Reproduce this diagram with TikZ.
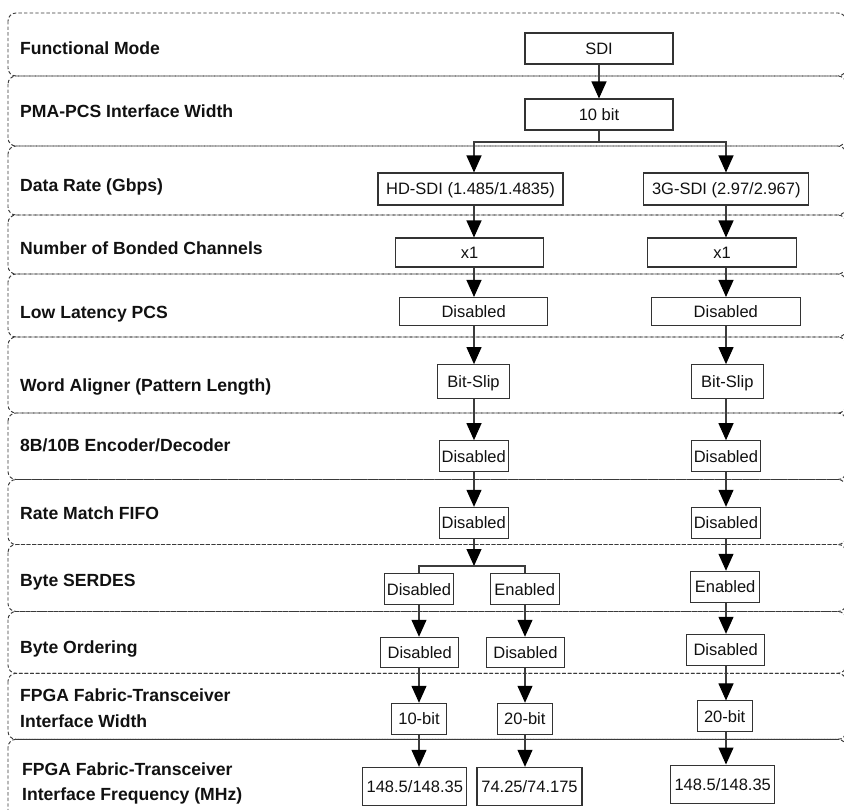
\documentclass[tikz,border=0pt]{standalone}
\usepackage{fontspec}
\setmainfont{Liberation Sans}
\usetikzlibrary{arrows.meta}
\definecolor{framegray}{HTML}{3A3A3A}
\definecolor{linegray}{HTML}{3C3C3C}
\definecolor{boxgray}{HTML}{333333}
\definecolor{ink}{HTML}{111111}

\begin{document}
\begin{tikzpicture}[x=1pt,y=-1pt,
  rowframe/.style={draw=framegray, line width=0.95pt, dash pattern=on 3.4pt off 2.2pt, rounded corners=8pt},
  rowlabel/.style={anchor=base west, inner sep=0pt, text=ink, font=\fontsize{17.6}{25.6}\selectfont\bfseries},
  rowlabeltwo/.style={anchor=north west, inner sep=0pt, text=ink, align=left, font=\fontsize{17.6}{25.6}\selectfont\bfseries},
  box/.style 2 args={draw=boxgray, line width=1.05pt, fill=white, inner sep=0pt, text=ink,
    font=\fontsize{16.5}{19}\selectfont, text height=11.8pt, text depth=0pt,
    minimum width=#1pt, minimum height=#2pt},
  flow/.style={draw=linegray, line width=1.1pt, -{Triangle[width=15pt,length=17pt,color=black]}},
  link/.style={draw=linegray, line width=1.1pt}]

\useasboundingbox (0,0) rectangle (844,810);
\clip (0,0) rectangle (844,810);

% parameter rows
\foreach \top/\bot in {13/76, 76/146, 146/215, 215/274, 274/337, 337/413,
                       413/479.5, 479.5/544.5, 544.5/611.5, 611.5/673.3, 673.3/739.3, 739.3/830}
  \draw[rowframe] (8,\top) rectangle (846,\bot);

% row captions
\node[rowlabel] (lFM)  at (20,54.8)  {Functional Mode};
\node[rowlabel] (lPMA) at (20,117.3) {PMA-PCS Interface Width};
\node[rowlabel] (lDR)  at (20,191.5) {Data Rate (Gbps)};
\node[rowlabel] (lBC)  at (20,255)   {Number of Bonded Channels};
\node[rowlabel] (lLL)  at (20,319)   {Low Latency PCS};
\node[rowlabel] (lWA)  at (20,391.5) {Word Aligner (Pattern Length)};
\node[rowlabel] (lED)  at (20,451.7) {8B/10B Encoder/Decoder};
\node[rowlabel] (lRM)  at (20,519.3) {Rate Match FIFO};
\node[rowlabel] (lBS)  at (20,586.7) {Byte SERDES};
\node[rowlabel] (lBO)  at (20,653)   {Byte Ordering};
\node[rowlabeltwo] (lFW) at (20,688.9) {FPGA Fabric-Transceiver\\Interface Width};
\node[rowlabeltwo] (lFF) at (22,762.2) {FPGA Fabric-Transceiver\\Interface Frequency (MHz)};

% column axes for the connectors
\coordinate (colA) at (474,0);
\coordinate (colB) at (726,0);
\coordinate (colL) at (419,0);
\coordinate (colM) at (525,0);
\coordinate (split1) at (599,142);
\coordinate (split2) at (474,566);

% setting boxes
\node[box={148}{31}]   (sdi)   at (599,48.5)   {SDI};
\node[box={148}{31}]   (bit10) at (599,114.5)  {10 bit};
\node[box={185}{32}]   (hd)    at (470.5,189)  {HD-SDI (1.485/1.4835)};
\node[box={164.7}{32}] (g3)    at (726.3,189)  {3G-SDI (2.97/2.967)};
\node[box={148.5}{29}] (x1a)   at (469.6,252.5) {x1};
\node[box={148.5}{29}] (x1b)   at (722,252.5)  {x1};
\node[box={148}{28}]   (lla)   at (473.6,311.5) {Disabled};
\node[box={148.5}{28}] (llb)   at (725.8,311.5) {Disabled};
\node[box={71.5}{34.3}] (bsa)  at (473.5,381.8) {Bit-Slip};
\node[box={71.8}{34.3}] (bsb)  at (727.3,381.8) {Bit-Slip};
\node[box={69}{31}]    (eda)   at (473.7,456.2) {Disabled};
\node[box={69}{31}]    (edb)   at (725.9,456.2) {Disabled};
\node[box={69}{30.7}]  (rma)   at (473.7,522.7) {Disabled};
\node[box={69}{30.7}]  (rmb)   at (725.9,522.7) {Disabled};
\node[box={69.4}{30.7}] (sda)  at (419,589.3)  {Disabled};
\node[box={69.1}{30.7}] (sdb)  at (524.7,589.3) {Enabled};
\node[box={69.4}{31}]  (sdc)   at (725.1,586.8) {Enabled};
\node[box={77.8}{30}]  (boa)   at (419.7,652.3) {Disabled};
\node[box={77.7}{30}]  (bob)   at (525.5,652.3) {Disabled};
\node[box={77.4}{30.7}] (boc)  at (725.6,649.7) {Disabled};
\node[box={55.5}{31}]  (fwa)   at (419,718.8)  {10-bit};
\node[box={54.9}{31}]  (fwb)   at (524.8,718.8) {20-bit};
\node[box={54.8}{30.7}] (fwc)  at (724.7,716.3) {20-bit};
\node[box={104}{37.7}] (ffa)   at (414.8,786.2) {148.5/148.35};
\node[box={105}{37.7}] (ffb)   at (529.5,786.2) {74.25/74.175};
\node[box={104}{38.3}] (ffc)   at (722.7,784.2) {148.5/148.35};

% connectors
\draw[flow] (sdi) -- (bit10);
\draw[link] (bit10.south) -- (split1);
\draw[flow] (split1) -| (hd.north -| colA);
\draw[flow] (split1) -| (g3.north -| colB);

\foreach \p/\q in {hd/x1a, x1a/lla, lla/bsa, bsa/eda, eda/rma}
  \draw[flow] (\p.south -| colA) -- (\q.north -| colA);
\foreach \p/\q in {g3/x1b, x1b/llb, llb/bsb, bsb/edb, edb/rmb, rmb/sdc, sdc/boc, boc/fwc, fwc/ffc}
  \draw[flow] (\p.south -| colB) -- (\q.north -| colB);

\draw[flow] (rma.south -| colA) -- (split2);
\draw[link] (sda.north -| colL) |- (split2) -| (sdb.north -| colM);

\foreach \p/\q in {sda/boa, boa/fwa, fwa/ffa}
  \draw[flow] (\p.south -| colL) -- (\q.north -| colL);
\foreach \p/\q in {sdb/bob, bob/fwb, fwb/ffb}
  \draw[flow] (\p.south -| colM) -- (\q.north -| colM);

\end{tikzpicture}
\end{document}
